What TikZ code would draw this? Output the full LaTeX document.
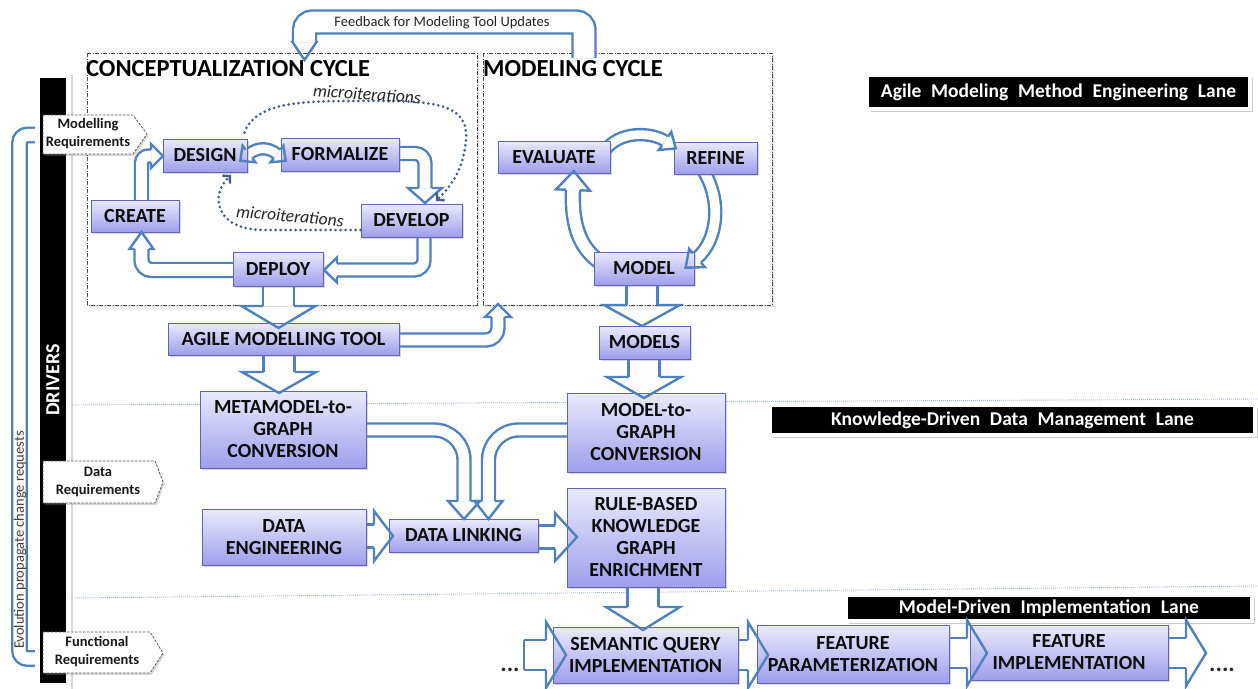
\documentclass[tikz,border=0pt]{standalone}
\usepackage{fontspec}
\setmainfont{Carlito}
\usetikzlibrary{shadows,arrows.meta,calc}
\pgfdeclarelayer{back}
\pgfdeclarelayer{mid}
\pgfsetlayers{back,mid,main}

\definecolor{ablue}{RGB}{79,129,189}
\definecolor{btop}{RGB}{234,234,252}
\definecolor{bbot}{RGB}{158,158,236}
\definecolor{bline}{RGB}{100,100,180}
\definecolor{dotc}{RGB}{66,96,138}
\definecolor{lanec}{RGB}{165,185,212}

\newcommand\lanefont{\fontsize{19.5}{22}\selectfont\bfseries\spaceskip=0.5em\relax}

\tikzset{
  proc/.style={draw=bline, line width=0.9pt, top color=btop, bottom color=bbot,
    inner sep=0pt, align=center, text=black!95,
    font=\fontsize{20}{22}\selectfont\bfseries,
    drop shadow={shadow xshift=1.5pt, shadow yshift=-1.8pt, opacity=0.3}},
  shaft/.style={draw=ablue, line width=2.4pt, double=white, double distance=#1},
  headline/.style={draw=ablue, line width=2.4pt, line join=miter},
  pics/bhead/.style n args={3}{code={
    \draw[headline] (0,-#1) -- (0,-#2) -- (#3,0) -- (0,#2) -- (0,#1);}},
  frame/.style={draw=black!70, line width=0.7pt,
    dash pattern=on 4pt off 1.5pt on 1pt off 1.5pt, fill=white,
    drop shadow={shadow xshift=1.5pt, shadow yshift=-1.5pt, opacity=0.25}},
  laneline/.style={draw=lanec, line width=0.9pt, dash pattern=on 1pt off 1pt},
  lanelbl/.style={fill=black, draw=white, line width=4pt, text=white, inner sep=0pt,
    drop shadow={shadow xshift=2.5pt, shadow yshift=-3pt, opacity=0.4}},
  callout/.style={draw=black!65, line width=0.8pt, dash pattern=on 2.5pt off 1.5pt,
    fill=white, drop shadow={shadow xshift=1.5pt, shadow yshift=-2pt, opacity=0.3}},
  ctext/.style={font=\fontsize{14.5}{18}\selectfont\bfseries, align=center,
    inner sep=0pt, text=black!90},
  micro/.style={draw=dotc, line width=3pt, line cap=round,
    dash pattern=on 0pt off 5pt,
    -{Straight Barb[length=5pt, width=11pt, line width=2.4pt]}},
  mtext/.style={font=\fontsize{17.5}{20}\selectfont\itshape, inner sep=0pt, text=black!85},
  cycletitle/.style={font=\fontsize{24.5}{28}\selectfont\bfseries, inner sep=0pt},
  dots/.style={font=\fontsize{24}{24}\selectfont\bfseries, inner sep=0pt, text=black!85},
}

\begin{document}
\begin{tikzpicture}[x=1pt,y=-1pt]
\useasboundingbox (0,0) rectangle (1258,688);

% ---------- process boxes ----------
\node[proc, minimum width=84pt,  minimum height=33pt] (design)    at (205,155.5) {DESIGN};
\node[proc, minimum width=118pt, minimum height=33pt] (formalize) at (340,154.5) {FORMALIZE};
\node[proc, minimum width=88pt,  minimum height=32pt] (create)    at (135,216)   {CREATE};
\node[proc, minimum width=101pt, minimum height=33pt] (develop)   at (411.5,220.5) {DEVELOP};
\node[proc, minimum width=90pt,  minimum height=34pt] (deploy)    at (278,269)   {DEPLOY};
\node[proc, minimum width=112pt, minimum height=32pt] (evaluate)  at (554,157)   {EVALUATE};
\node[proc, minimum width=83pt,  minimum height=32pt] (refine)    at (715.5,158) {REFINE};
\node[proc, minimum width=100pt, minimum height=33pt] (model)     at (644,268.5) {MODEL};
\node[proc, minimum width=231pt, minimum height=32pt] (amt)       at (283.5,339) {AGILE MODELLING TOOL};
\node[proc, minimum width=91pt,  minimum height=33pt] (models)    at (644.5,342.5) {MODELS};
\node[proc, minimum width=166pt, minimum height=77pt] (m2g)       at (283,429.5) {METAMODEL-to-\\GRAPH\\CONVERSION};
\node[proc, minimum width=158pt, minimum height=79pt] (mg)        at (646,432.5) {MODEL-to-\\GRAPH\\CONVERSION};
\node[proc, minimum width=164pt, minimum height=56pt] (dataeng)   at (284,537)   {DATA\\ENGINEERING};
\node[proc, minimum width=149pt, minimum height=33pt] (link)      at (463.5,535.5) {DATA LINKING};
\node[proc, minimum width=158pt, minimum height=99pt] (rule)      at (646,537.5) {RULE-BASED\\KNOWLEDGE\\GRAPH\\ENRICHMENT};
\node[proc, minimum width=185pt, minimum height=56pt] (sem)       at (645.5,655) {SEMANTIC QUERY\\IMPLEMENTATION};
\node[proc, minimum width=192pt, minimum height=58pt] (fpar)      at (853,654)   {FEATURE\\PARAMETERIZATION};
\node[proc, minimum width=198pt, minimum height=55pt] (fimp)      at (1069,652.5) {FEATURE\\IMPLEMENTATION};

% ---------- background: frames, lanes, drivers ----------
\begin{pgfonlayer}{back}
  \fill[white] (0,0) rectangle (1258,688);
  \draw[frame] (87,53) rectangle (477,305);
  \draw[frame] (483,53) rectangle (772,305);
  \draw[laneline] (71,405) -- (1258,399);
  \draw[laneline] (71,598) -- (1258,586);
  % evolution loop
  \coordinate (evtop) at (41,135);
  \coordinate (evbot) at (41,658.5);
  \draw[shaft=12.1pt, rounded corners=8pt] (evtop) -- (19.5,135) -- (19.5,658.5) -- (evbot);
  % drivers bar
  \fill[white, drop shadow={shadow xshift=1.5pt, shadow yshift=-1.5pt, opacity=0.3}] (35,73) rectangle (71,690);
  \fill[black] (40,78) rectangle (66,683);
  % requirement callouts
  \draw[callout] (43,115) -- (133,115) -- (147,134) -- (133,154) -- (43,154) -- cycle;
  \draw[callout] (43,461) -- (155,461) -- (163,482) -- (155,503) -- (43,503) -- cycle;
  \draw[callout] (43,632) -- (150,632) -- (163,653) -- (150,673) -- (43,673) -- cycle;
  % lane labels
  \node[lanelbl, minimum width=383pt, minimum height=34pt] (lane1) at (1058.5,92)
    {\lanefont Agile Modeling Method Engineering Lane};
  \node[lanelbl, minimum width=485pt, minimum height=30pt] (lane2) at (1012.5,420)
    {\lanefont Knowledge-Driven Data Management Lane};
  \node[lanelbl, minimum width=406pt, minimum height=26pt] (lane3) at (1049,608)
    {\lanefont Model-Driven Implementation Lane};
\end{pgfonlayer}

% ---------- block arrow shafts ----------
\begin{pgfonlayer}{mid}
  % conceptualization cycle
  \draw[shaft=10.6pt, rounded corners=7pt] ($(create.north)+(6.5,1)$) |- (151,156);
  \draw[shaft=8.6pt] (249,154) .. controls (258,147) and (268,147) .. (277,154);
  \draw[shaft=10.6pt, rounded corners=10pt] ($(formalize.east)+(-1,-1)$) -| (425,188);
  \draw[shaft=10.6pt, rounded corners=10pt] ($(develop.south)+(12.5,-1)$) |- (337,270);
  \draw[shaft=11.6pt, rounded corners=10pt] ($(deploy.west)+(1,1)$) -| (141.5,249);
  % modeling cycle
  \draw[shaft=8.6pt] (604,152) .. controls (618,130) and (652,132) .. (665,141);
  \draw[shaft=9.6pt] (703,170) .. controls (722,200) and (718,240) .. (697,258);
  \draw[shaft=11.6pt] (600,262) .. controls (575,245) and (572,215) .. (573,190);
  % feedback loop
  \draw[shaft=20.6pt, rounded corners=8pt] (584,58) -- (584,22) -- (304.5,22) -- (304.5,42);
  % down arrows
  \draw[shaft=28.6pt] ($(deploy.south)+(0.5,-1)$) -- (278.5,306);
  \draw[shaft=28.6pt] ($(amt.south)+(-4.5,-1)$) -- (279,372);
  \draw[shaft=28.6pt] ($(model.south)+(-2,-1)$) -- (642,305);
  \draw[shaft=28.6pt] ($(models.south)+(-0.5,-1)$) -- (644,377);
  \draw[shaft=28.6pt] ($(rule.south)+(-3,-1)$) -- (643,607);
  % tool feedback to modeling cycle
  \draw[shaft=10.6pt, rounded corners=12pt] ($(amt.east)+(-1,1)$) -| (498,317);
  % conversions into data linking
  \draw[shaft=10.6pt, rounded corners=30pt] ($(m2g.east)+(-1,0.5)$) -| (464,501);
  \draw[shaft=10.6pt, rounded corners=30pt] ($(mg.west)+(1,-2.5)$) -| (488.5,501);
  \draw[shaft=20.6pt] ($(dataeng.east)+(-1,-1)$) -- (374,536);
  \draw[shaft=20.6pt] ($(link.east)+(-1,1.5)$) -- (555,537);
  % implementation lane
  \draw[shaft=27.6pt] (524,655) -- (546,655);
  \draw[shaft=27.6pt] ($(sem.east)+(-1,0)$) -- (748,655);
  \draw[shaft=27.6pt] ($(fpar.east)+(-1,-1)$) -- (967,653);
  \draw[shaft=27.6pt] ($(fimp.east)+(-1,0.5)$) -- (1186,653);
\end{pgfonlayer}

% ---------- arrow heads ----------
\pic[rotate=0]      at (151,156)   {bhead={6.5}{12}{12}};
\pic[rotate=-142.1] at (249,154)   {bhead={5.5}{10.5}{11}};
\pic[rotate=-37.9]  at (277,154)   {bhead={5.5}{10.5}{11}};
\pic[rotate=-90]    at (425,188)   {bhead={6.5}{17}{15}};
\pic[rotate=180]    at (337,270)   {bhead={6.5}{12.5}{13}};
\pic[rotate=90]     at (141.5,249) {bhead={7}{12}{17}};
\pic[rotate=-34.7]  at (665,141)   {bhead={5.5}{11}{13}};
\pic[rotate=-139.4] at (697,258)   {bhead={6}{12}{15}};
\pic[rotate=87.7]   at (573,190)   {bhead={7}{17}{19}};
\pic[rotate=-90]    at (304.5,42)  {bhead={11.5}{12}{18}};
\pic[rotate=-90]    at (278.5,306) {bhead={15.5}{37}{22}};
\pic[rotate=-90]    at (279,372)   {bhead={15.5}{37}{21}};
\pic[rotate=-90]    at (642,305)   {bhead={15.5}{38}{21}};
\pic[rotate=-90]    at (644,377)   {bhead={15.5}{37}{21}};
\pic[rotate=-90]    at (643,607)   {bhead={15.5}{37}{23}};
\pic[rotate=90]     at (498,317)   {bhead={6.5}{13}{13}};
\pic[rotate=-90]    at (464,501)   {bhead={6.5}{16}{18}};
\pic[rotate=-90]    at (488.5,501) {bhead={6.5}{14}{18}};
\pic[rotate=0]      at (374,536)   {bhead={11.5}{25}{19}};
\pic[rotate=0]      at (555,537)   {bhead={11.5}{24}{22}};
\pic[rotate=0]      at (546,655)   {bhead={15}{33}{20}};
\pic[rotate=0]      at (748,655)   {bhead={15}{33}{20}};
\pic[rotate=0]      at (967,653)   {bhead={15}{33}{20}};
\pic[rotate=0]      at (1186,653)  {bhead={15}{33}{20}};
\draw[headline] (524,640) -- (524,670);

% ---------- micro-iterations ----------
\draw[micro] ($(design.north east)+(-3,-6)$) .. controls (255,103) and (300,101) .. (350,101)
  .. controls (420,101) and (470,98) .. (466,140) .. controls (463,170) and (452,185) .. (436,201);
\draw[micro] (develop.west |- 0,230) -- (262,230) .. controls (215,229) and (210,195) .. (231,175);
\node[mtext, rotate=-4] (mi1) at (367,94)  {microiterations};
\node[mtext, rotate=-5] (mi2) at (290,216) {microiterations};

% ---------- titles and labels ----------
\node[cycletitle, anchor=base west] (ctitle) at (86,76)  {CONCEPTUALIZATION CYCLE};
\node[cycletitle, anchor=base west] (mtitle) at (483,76) {MODELING CYCLE};
\node[font=\fontsize{14.5}{16}\selectfont, text=black!85, inner sep=0pt] (fb) at (442,23)
  {Feedback for Modeling Tool Updates};
\node[font=\fontsize{20}{22}\selectfont\bfseries, text=white, rotate=90, inner sep=0pt] (drv) at (53,380) {DRIVERS};
\node[font=\fontsize{14.5}{16}\selectfont, text=black!75, rotate=90, inner sep=0pt] (evo) at (20,540)
  {Evolution propagate change requests};
\node[ctext] (mreq) at (88,134)  {Modelling\\Requirements};
\node[ctext] (dreq) at (98,482)  {Data\\Requirements};
\node[ctext] (freq) at (97,652)  {Functional\\Requirements};
\node[dots, anchor=base] (dotl) at (510,671)  {...};
\node[dots, anchor=base] (dotr) at (1222,671) {....};
\end{tikzpicture}
\end{document}
